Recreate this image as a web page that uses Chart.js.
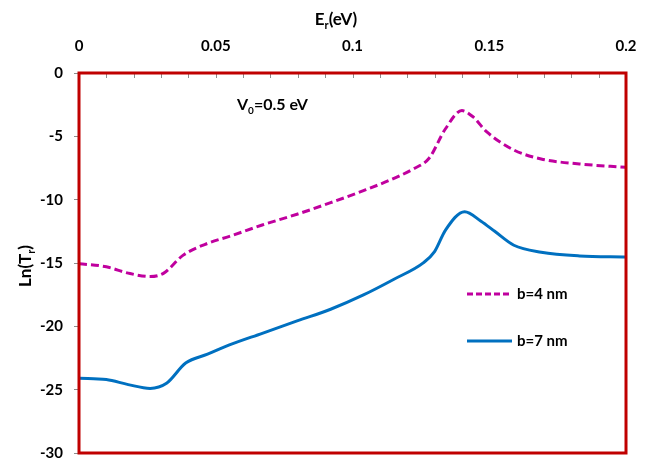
<!DOCTYPE html>
<html>
<head>
<meta charset="utf-8">
<script src="https://cdn.jsdelivr.net/npm/chart.js@4"></script>
<style>
  html, body { margin: 0; padding: 0; background: #fff; overflow: hidden; }
  #chart { display: block; }
</style>
</head>
<body>
<canvas id="chart" width="648" height="461"></canvas>
<script>
// energy (eV) and ln(T) for the two barrier widths
const energy4 = [0, 0.01, 0.018, 0.026, 0.031, 0.038, 0.047, 0.055, 0.067, 0.08, 0.092, 0.104, 0.116, 0.122, 0.128, 0.134, 0.14, 0.144, 0.149, 0.159, 0.169, 0.183, 0.2];
const lnT4 = [-15.05, -15.3, -15.8, -16.07, -15.8, -14.4, -13.45, -12.9, -12.0, -11.13, -10.24, -9.29, -8.24, -7.6, -6.73, -4.4, -2.97, -3.45, -4.63, -6.08, -6.79, -7.18, -7.45];

const energy7 = [0, 0.01, 0.018, 0.026, 0.032, 0.039, 0.047, 0.055, 0.067, 0.08, 0.092, 0.104, 0.115, 0.126, 0.13, 0.134, 0.141, 0.147, 0.152, 0.159, 0.169, 0.183, 0.2];
const lnT7 = [-24.1, -24.2, -24.6, -24.9, -24.5, -22.9, -22.2, -21.47, -20.55, -19.55, -18.65, -17.52, -16.3, -14.97, -14.1, -12.4, -10.95, -11.7, -12.5, -13.6, -14.15, -14.44, -14.52];

const seriesNames = ['b=4 nm', 'b=7 nm'];
const xTicks = [0, 0.05, 0.1, 0.15, 0.2];
const yTicks = [0, -5, -10, -15, -20, -25, -30];

const FONT = 'Lato, "Open Sans", sans-serif';
const MAGENTA = '#C0009E';
const BLUE = '#0070C0';

function toPoints(xs, ys) {
  return xs.map((x, i) => ({ x: x, y: ys[i] }));
}

// text with subscript pieces: parts = [[text, isSub], ...]
function drawParts(ctx, parts, x, y, size, align) {
  ctx.textBaseline = 'alphabetic';
  ctx.textAlign = 'left';
  let total = 0;
  parts.forEach(p => {
    ctx.font = 'bold ' + (p[1] ? Math.round(size * 0.65) : size) + 'px ' + FONT;
    total += ctx.measureText(p[0]).width;
  });
  let cx = align === 'center' ? x - total / 2 : x;
  parts.forEach(p => {
    ctx.font = 'bold ' + (p[1] ? Math.round(size * 0.65) : size) + 'px ' + FONT;
    ctx.fillText(p[0], cx, p[1] ? y + size * 0.22 : y);
    cx += ctx.measureText(p[0]).width;
  });
}

const decorations = {
  id: 'decorations',
  afterDatasetsDraw(chart) {
    const ctx = chart.ctx;
    const a = chart.chartArea;
    const xs = chart.scales.x;
    ctx.save();

    // small inward ticks along the top edge every 0.01
    ctx.strokeStyle = '#8c8c8c';
    ctx.lineWidth = 1;
    for (let i = 1; i < 20; i++) {
      const px = Math.round(xs.getPixelForValue(i * 0.01)) + 0.5;
      ctx.beginPath();
      ctx.moveTo(px, a.top);
      ctx.lineTo(px, a.top + 5);
      ctx.stroke();
    }

    // plot frame
    ctx.strokeStyle = '#C00000';
    ctx.lineWidth = 3;
    ctx.strokeRect(a.left, a.top, a.right - a.left, a.bottom - a.top);

    ctx.fillStyle = '#000';
    // axis titles
    drawParts(ctx, [['E', false], ['r', true], ['(eV)', false]], 336, 25, 17, 'center');
    ctx.save();
    ctx.translate(31, 266);
    ctx.rotate(-Math.PI / 2);
    drawParts(ctx, [['Ln(T', false], ['r', true], [')', false]], 0, 0, 17, 'center');
    ctx.restore();

    // barrier height label
    drawParts(ctx, [['V', false], ['0', true], ['=0.5 eV', false]], 237, 110, 16, 'left');

    // legend
    const rows = [
      { y: 294, color: MAGENTA, dash: [6, 3], name: seriesNames[0] },
      { y: 341, color: BLUE, dash: [], name: seriesNames[1] }
    ];
    rows.forEach(r => {
      ctx.strokeStyle = r.color;
      ctx.lineWidth = 3;
      ctx.setLineDash(r.dash);
      ctx.beginPath();
      ctx.moveTo(467, r.y);
      ctx.lineTo(512, r.y);
      ctx.stroke();
      ctx.setLineDash([]);
      ctx.font = 'bold 15px ' + FONT;
      ctx.textBaseline = 'middle';
      ctx.textAlign = 'left';
      ctx.fillText(r.name, 517, r.y);
    });
    ctx.restore();
  }
};

new Chart(document.getElementById('chart'), {
  type: 'scatter',
  data: {
    datasets: [{
      label: seriesNames[0],
      data: toPoints(energy4, lnT4),
      showLine: true,
      borderColor: MAGENTA,
      borderWidth: 3,
      borderDash: [8, 4],
      pointRadius: 0,
      cubicInterpolationMode: 'monotone'
    }, {
      label: seriesNames[1],
      data: toPoints(energy7, lnT7),
      showLine: true,
      borderColor: BLUE,
      borderWidth: 3,
      pointRadius: 0,
      cubicInterpolationMode: 'monotone'
    }]
  },
  options: {
    responsive: false,
    animation: false,
    devicePixelRatio: 1,
    layout: { padding: { left: 0, top: 0, right: 22, bottom: 8 } },
    plugins: {
      legend: { display: false },
      tooltip: { enabled: false }
    },
    scales: {
      x: {
        type: 'linear',
        position: 'top',
        min: 0,
        max: 0.2,
        afterBuildTicks: s => { s.ticks = xTicks.map(v => ({ value: v })); },
        afterFit: s => {
          s.height = 73;
          s.paddingLeft = 0;
          s.paddingRight = 0;
        },
        grid: { display: false, drawTicks: false },
        border: { display: false },
        ticks: {
          color: '#000',
          padding: 18,
          maxRotation: 0,
          font: { family: FONT, size: 15, weight: 'bold' },
          callback: v => String(Math.round(v * 100) / 100)
        }
      },
      y: {
        type: 'linear',
        min: -30,
        max: 0,
        afterBuildTicks: s => { s.ticks = yTicks.map(v => ({ value: v })); },
        afterFit: s => {
          s.width = 79;
          s.paddingTop = 0;
          s.paddingBottom = 0;
        },
        grid: { drawOnChartArea: false, tickLength: 5, color: '#8c8c8c' },
        border: { display: false },
        ticks: {
          color: '#000',
          padding: 11,
          font: { family: FONT, size: 15, weight: 'bold' }
        }
      }
    }
  },
  plugins: [decorations]
});
</script>
</body>
</html>
